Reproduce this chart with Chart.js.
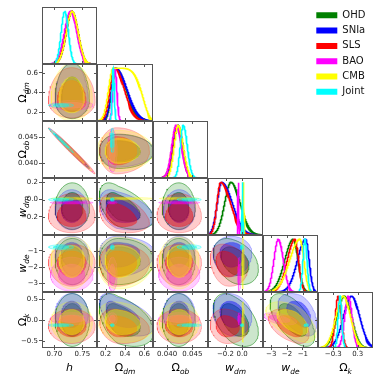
<!DOCTYPE html>
<html>
<head>
<meta charset="utf-8">
<script src="https://cdn.jsdelivr.net/npm/chart.js@4.4.0/dist/chart.umd.min.js"></script>
<style>
  html, body { margin: 0; padding: 0; background: #fff; }
  #fig { position: relative; width: 381px; height: 381px; overflow: hidden; background: #fff; }
  #fig canvas { position: absolute; }
</style>
</head>
<body>
<div id="fig"></div>
<script>
// parameters (axis order) and datasets
const params = ['h', 'Ωdm', 'Ωob', 'wdm', 'wde', 'Ωk'];
const symbols = ['h', 'Ω', 'Ω', 'w', 'w', 'Ω'];
const subscripts = ['', 'dm', 'ob', 'dm', 'de', 'k'];
const series = ['OHD', 'SNIa', 'SLS', 'BAO', 'CMB', 'Joint'];
const colors = ['#008000', '#0000ff', '#ff0000', '#ff00ff', '#ffff00', '#00ffff'];
const edgeAlpha = [0.75, 0.35, 0.35, 0.35, 0.35, 0.5];

// axis ranges and ticks
const axisMin = [0.678, 0.11, 0.0372, -0.41, -3.52, -0.675];
const axisMax = [0.776, 0.69, 0.0481, 0.25, -0.04, 0.675];
const xTicks = [[0.70, 0.75], [0.2, 0.4, 0.6], [0.040, 0.045], [-0.2, 0.0], [-3, -2, -1], [-0.3, 0.3]];
const yTicks = [[], [0.2, 0.4, 0.6], [0.040, 0.045], [-0.2, 0.0, 0.2], [-3, -2, -1], [-0.5, 0.0, 0.5]];
const tickDecimals = [2, 1, 3, 1, 0, 1];

// 1D marginals, rows = series, cols = params
const peak1D = [
  [0.731, 0.305, 0.0421, -0.134, -1.60, -0.03],
  [0.731, 0.305, 0.0421, -0.245, -0.82, 0.15],
  [0.731, 0.293, 0.0419, -0.257, -1.50, -0.177],
  [0.729, 0.295, 0.0418, -0.046, -2.55, 0.07],
  [0.732, 0.278, 0.0422, 0.014, -1.18, -0.054],
  [0.7186, 0.278, 0.0432, 0.004, -0.86, -0.135]
];
const widthLo1D = [
  [0.0105, 0.042, 0.00095, 0.076, 0.54, 0.18],
  [0.0105, 0.045, 0.00095, 0.055, 0.52, 0.20],
  [0.0105, 0.048, 0.00090, 0.045, 0.48, 0.075],
  [0.0110, 0.020, 0.00087, 0.005, 0.28, 0.09],
  [0.0105, 0.048, 0.00080, 0.006, 0.65, 0.18],
  [0.0065, 0.011, 0.00060, 0.004, 0.13, 0.045]
];
const widthHi1D = [
  [0.0105, 0.105, 0.00095, 0.110, 0.30, 0.18],
  [0.0105, 0.115, 0.00095, 0.127, 0.22, 0.20],
  [0.0105, 0.100, 0.00100, 0.118, 0.23, 0.075],
  [0.0110, 0.020, 0.00104, 0.005, 0.32, 0.09],
  [0.0105, 0.283, 0.00100, 0.006, 0.25, 0.18],
  [0.0065, 0.011, 0.00080, 0.004, 0.13, 0.045]
];
const shapeHi1D = [
  [2, 2, 2, 2, 2, 2],
  [2, 2, 2, 2, 2, 2],
  [2, 2, 2, 2, 2, 2],
  [2, 2, 2, 2, 2, 2],
  [2, 5.5, 2, 2, 2, 2],
  [2, 2, 2, 2, 2, 2]
];

// 2D contours: centre and spread per param, rows = series
const center2D = [
  [0.732, 0.33, 0.0423, -0.10, -1.60, 0.00],
  [0.731, 0.31, 0.0424, -0.13, -1.10, 0.15],
  [0.731, 0.31, 0.0424, -0.20, -1.70, -0.15],
  [0.731, 0.27, 0.0424, -0.035, -2.50, 0.03],
  [0.731, 0.33, 0.0424, 0.012, -1.50, -0.05],
  [0.712, 0.27, 0.0444, 0.000, -0.78, -0.125]
];
const sigLo2D = [
  [0.0125, 0.08, 0.00134, 0.10, 0.60, 0.26],
  [0.0120, 0.07, 0.00128, 0.09, 0.60, 0.22],
  [0.0170, 0.07, 0.00180, 0.075, 0.60, 0.17],
  [0.0155, 0.02, 0.00166, 0.007, 0.40, 0.06],
  [0.0150, 0.09, 0.00160, 0.006, 0.75, 0.20],
  [0.0090, 0.008, 0.00096, 0.008, 0.06, 0.015]
];
const sigHi2D = [
  [0.0125, 0.15, 0.00134, 0.12, 0.55, 0.26],
  [0.0120, 0.16, 0.00128, 0.10, 0.40, 0.20],
  [0.0170, 0.14, 0.00180, 0.11, 0.45, 0.17],
  [0.0155, 0.02, 0.00166, 0.007, 0.45, 0.06],
  [0.0150, 0.15, 0.00160, 0.006, 0.55, 0.20],
  [0.0090, 0.008, 0.00096, 0.008, 0.06, 0.015]
];
// correlations, panel order: (h,Ωdm) (h,Ωob) (Ωdm,Ωob) (h,wdm) (Ωdm,wdm) (Ωob,wdm)
// (h,wde) (Ωdm,wde) (Ωob,wde) (wdm,wde) (h,Ωk) (Ωdm,Ωk) (Ωob,Ωk) (wdm,Ωk) (wde,Ωk)
const rho2D = [
  [0, -0.99, 0, 0, -0.50, 0, 0, 0, 0, -0.35, 0, -0.45, 0, -0.45, -0.60],
  [0, -0.99, 0, 0, -0.40, 0, 0, 0, 0, 0, 0, -0.55, 0, -0.15, -0.45],
  [0, -0.99, 0, 0, -0.35, 0, 0, 0, 0, -0.20, 0, -0.20, 0, -0.10, -0.45],
  [0, -0.99, 0, 0, 0, 0, 0, 0, 0, 0, 0, 0, 0, 0, -0.50],
  [0, -0.99, 0, 0, 0, 0, 0, 0, 0, 0, 0, -0.20, 0, 0, -0.55],
  [0, -0.99, 0, 0, 0, 0, 0, 0, 0, 0, 0, 0, 0, 0, 0]
];

// panel grid on the page
const colEdges = [42, 97, 153, 208, 263, 318, 373];
const rowEdges = [7, 64, 121, 178, 235, 292, 348];
const figSize = 381;

Chart.defaults.font.family = '"DejaVu Sans", sans-serif';

function rgba(hex, a) {
  const n = parseInt(hex.slice(1), 16);
  return 'rgba(' + (n >> 16) + ',' + ((n >> 8) & 255) + ',' + (n & 255) + ',' + a + ')';
}

function fmt(v, p) {
  return (v < 0 ? '−' : '') + Math.abs(v).toFixed(tickDecimals[p]);
}

function pairIndex(i, j) {
  return j * (j - 1) / 2 + i;
}

function marginal(s, p) {
  const pts = [];
  const n = 400;
  for (let q = 0; q <= n; q++) {
    const x = axisMin[p] + (axisMax[p] - axisMin[p]) * q / n;
    const d = x - peak1D[s][p];
    const w = d < 0 ? widthLo1D[s][p] : widthHi1D[s][p];
    const e = d < 0 ? 2 : shapeHi1D[s][p];
    pts.push({ x: x, y: Math.exp(-0.5 * Math.pow(Math.abs(d) / w, e)) });
  }
  return pts;
}

// contour of series s in the (param i, param j) plane, k = radius in sigma
function contour(s, i, j, k) {
  const r = rho2D[s][pairIndex(i, j)];
  const pts = [];
  for (let n = 0; n <= 80; n++) {
    const t = n / 80 * 2 * Math.PI;
    const u = Math.cos(t);
    const v = r * Math.cos(t) + Math.sqrt(1 - r * r) * Math.sin(t);
    pts.push({
      x: center2D[s][i] + k * u * (u < 0 ? sigLo2D[s][i] : sigHi2D[s][i]),
      y: center2D[s][j] + k * v * (v < 0 ? sigLo2D[s][j] : sigHi2D[s][j])
    });
  }
  return pts;
}

// frame and inward ticks around every panel
const framePlugin = {
  id: 'frame',
  afterDatasetsDraw(chart, args, opts) {
    const { ctx, chartArea: a, scales } = chart;
    ctx.save();
    ctx.strokeStyle = '#555';
    ctx.lineWidth = 1;
    ctx.beginPath();
    xTicks[opts.xp].forEach(v => {
      const px = Math.round(scales.x.getPixelForValue(v)) + 0.5;
      ctx.moveTo(px, a.bottom); ctx.lineTo(px, a.bottom - 3);
      ctx.moveTo(px, a.top); ctx.lineTo(px, a.top + 3);
    });
    if (!opts.diag) {
      yTicks[opts.yp].forEach(v => {
        const py = Math.round(scales.y.getPixelForValue(v)) + 0.5;
        ctx.moveTo(a.left, py); ctx.lineTo(a.left + 3, py);
        ctx.moveTo(a.right, py); ctx.lineTo(a.right - 3, py);
      });
    }
    ctx.stroke();
    ctx.strokeRect(a.left + 0.5, a.top + 0.5, a.right - a.left - 1, a.bottom - a.top - 1);
    ctx.restore();
  }
};

function drawSymbol(ctx, p, cx, baseline) {
  const main = (symbols[p] === 'Ω' ? '' : 'italic ') + '11px "DejaVu Sans"';
  const sub = 'italic 7.5px "DejaVu Sans"';
  ctx.font = main;
  const wm = ctx.measureText(symbols[p]).width;
  ctx.font = sub;
  const ws = ctx.measureText(subscripts[p]).width;
  const x0 = cx - (wm + ws) / 2;
  ctx.textAlign = 'left';
  ctx.textBaseline = 'alphabetic';
  ctx.fillStyle = '#000';
  ctx.font = main;
  ctx.fillText(symbols[p], x0, baseline);
  ctx.font = sub;
  ctx.fillText(subscripts[p], x0 + wm, baseline + 2.5);
}

// axis titles with subscripts
const titlePlugin = {
  id: 'axisTitles',
  afterDraw(chart, args, opts) {
    const { ctx, chartArea: a } = chart;
    ctx.save();
    if (opts.xTitle != null) {
      drawSymbol(ctx, opts.xTitle, (a.left + a.right) / 2, opts.xBase);
    }
    if (opts.yTitle != null) {
      ctx.translate(26, (a.top + a.bottom) / 2);
      ctx.rotate(-Math.PI / 2);
      drawSymbol(ctx, opts.yTitle, 0, 0);
    }
    ctx.restore();
  }
};

const fig = document.getElementById('fig');

function makePanel(r, c) {
  const diag = r === c;
  const hasX = r === 5;
  const hasY = c === 0 && r > 0;
  const left = hasY ? 0 : colEdges[c];
  const top = rowEdges[r];
  const width = colEdges[c + 1] - left;
  const height = (hasX ? figSize : rowEdges[r + 1]) - top;
  const canvas = document.createElement('canvas');
  canvas.width = width;
  canvas.height = height;
  canvas.style.left = left + 'px';
  canvas.style.top = top + 'px';
  canvas.style.width = width + 'px';
  canvas.style.height = height + 'px';
  fig.appendChild(canvas);

  const drawList = [];
  series.forEach((name, s) => {
    if (diag) {
      drawList.push({
        label: name, data: marginal(s, c), showLine: true, fill: false,
        borderColor: colors[s], borderWidth: 1.6, pointRadius: 0
      });
    } else {
      drawList.push({
        label: name, data: contour(s, c, r, 2.45), showLine: true, fill: 'shape',
        backgroundColor: rgba(colors[s], 0.2), borderColor: rgba(colors[s], edgeAlpha[s]),
        borderWidth: 0.7, pointRadius: 0
      });
      drawList.push({
        label: name, data: contour(s, c, r, 1.52), showLine: true, fill: 'shape',
        backgroundColor: rgba(colors[s], 0.44), borderColor: rgba(colors[s], edgeAlpha[s]),
        borderWidth: 0.7, pointRadius: 0
      });
    }
  });
  // later entries are drawn on top
  drawList.forEach((d, k) => { d.order = -k; });

  const tickFont = { size: 7, family: '"DejaVu Sans"' };
  new Chart(canvas, {
    type: 'scatter',
    data: { datasets: drawList },
    options: {
      responsive: false,
      animation: false,
      devicePixelRatio: 1,
      events: [],
      layout: { padding: 0 },
      plugins: {
        legend: { display: false },
        tooltip: { enabled: false },
        frame: { xp: c, yp: r, diag: diag },
        axisTitles: {
          xTitle: hasX ? c : null,
          xBase: 371 - top,
          yTitle: hasY ? r : null
        }
      },
      scales: {
        x: {
          type: 'linear', min: axisMin[c], max: axisMax[c], display: hasX,
          afterBuildTicks: sc => { sc.ticks = xTicks[c].map(v => ({ value: v })); },
          afterFit: sc => {
            if (!hasX) return;
            sc.height = figSize - rowEdges[6]; sc.paddingLeft = 0; sc.paddingRight = 0;
          },
          ticks: { font: tickFont, color: '#222', padding: 0, maxRotation: 0, autoSkip: false,
                   callback: v => fmt(v, c) },
          grid: { drawOnChartArea: false, drawTicks: true, tickLength: 2, color: '#555' },
          border: { display: false }
        },
        y: {
          type: 'linear',
          min: diag ? 0 : axisMin[r],
          max: diag ? 1.08 : axisMax[r],
          display: hasY,
          afterBuildTicks: sc => { sc.ticks = (diag ? [] : yTicks[r]).map(v => ({ value: v })); },
          afterFit: sc => {
            if (!hasY) return;
            sc.width = colEdges[0]; sc.paddingTop = 0; sc.paddingBottom = 0;
          },
          ticks: { font: tickFont, color: '#222', padding: 1, autoSkip: false,
                   callback: v => fmt(v, r) },
          grid: { drawOnChartArea: false, drawTicks: true, tickLength: 3, color: '#555' },
          border: { display: false }
        }
      }
    },
    plugins: [framePlugin, titlePlugin]
  });
}

for (let r = 0; r < params.length; r++) {
  for (let c = 0; c <= r; c++) makePanel(r, c);
}

// legend, top right
const legendCanvas = document.createElement('canvas');
legendCanvas.width = 70;
legendCanvas.height = 200;
legendCanvas.style.left = '311px';
legendCanvas.style.top = '5px';
legendCanvas.style.width = '70px';
legendCanvas.style.height = '200px';
fig.appendChild(legendCanvas);
new Chart(legendCanvas, {
  type: 'line',
  data: {
    datasets: series.map((name, s) => ({
      label: name, data: [], backgroundColor: colors[s], borderColor: colors[s], borderWidth: 0
    }))
  },
  options: {
    responsive: false,
    animation: false,
    devicePixelRatio: 1,
    events: [],
    plugins: {
      legend: {
        position: 'top', align: 'start', maxHeight: 200,
        labels: { boxWidth: 21, boxHeight: 6, padding: 5.3, color: '#111',
                  font: { size: 10, family: '"DejaVu Sans"' } }
      },
      tooltip: { enabled: false }
    },
    scales: { x: { display: false }, y: { display: false } }
  }
});
</script>
</body>
</html>
